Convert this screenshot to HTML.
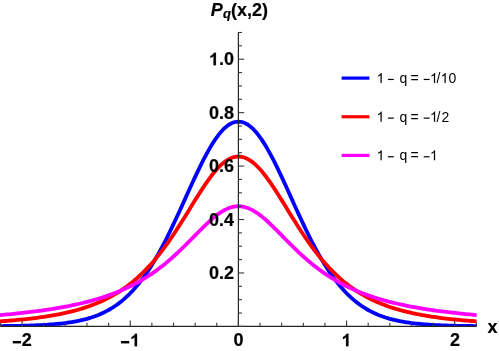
<!DOCTYPE html>
<html><head><meta charset="utf-8">
<style>
html,body{margin:0;padding:0;background:#fff;}
body{width:499px;height:351px;overflow:hidden;position:relative;font-family:"Liberation Sans",sans-serif;}
svg{position:absolute;left:0;top:0;will-change:transform;}
text{font-family:"Liberation Sans",sans-serif;}
.b{font-weight:bold;font-size:18px;fill:#000;stroke:#000;stroke-width:0.2px;stroke-linejoin:round;}
.l{font-size:14px;fill:#000;}
</style></head><body>
<svg width="499" height="351" viewBox="0 0 499 351">

<defs><clipPath id="cp"><rect x="0" y="0" width="476.65" height="326.50"/></clipPath></defs><g clip-path="url(#cp)">
<path d="M-6.04 326.12 L-3.88 326.10 L-1.72 326.09 L0.45 326.07 L2.61 326.04 L4.77 326.02 L6.94 325.99 L9.10 325.96 L11.26 325.93 L13.43 325.90 L15.59 325.86 L17.75 325.82 L19.92 325.78 L22.08 325.73 L24.24 325.67 L26.41 325.62 L28.57 325.55 L30.73 325.48 L32.90 325.41 L35.06 325.32 L37.22 325.24 L39.39 325.14 L41.55 325.03 L43.71 324.91 L45.88 324.79 L48.04 324.65 L50.20 324.50 L52.36 324.34 L54.53 324.16 L56.69 323.97 L58.85 323.76 L61.02 323.53 L63.18 323.29 L65.34 323.02 L67.51 322.73 L69.67 322.42 L71.83 322.08 L74.00 321.71 L76.16 321.32 L78.32 320.89 L80.49 320.43 L82.65 319.93 L84.81 319.39 L86.98 318.81 L89.14 318.18 L91.30 317.51 L93.47 316.78 L95.63 316.00 L97.79 315.17 L99.96 314.27 L102.12 313.31 L104.28 312.28 L106.44 311.18 L108.61 310.01 L110.77 308.75 L112.93 307.42 L115.10 305.99 L117.26 304.47 L119.42 302.86 L121.59 301.15 L123.75 299.34 L125.91 297.42 L128.08 295.39 L130.24 293.24 L132.40 290.98 L134.57 288.59 L136.73 286.09 L138.89 283.45 L141.06 280.69 L143.22 277.80 L145.38 274.78 L147.55 271.62 L149.71 268.34 L151.87 264.92 L154.04 261.37 L156.20 257.70 L158.36 253.90 L160.52 249.97 L162.69 245.93 L164.85 241.78 L167.01 237.52 L169.18 233.15 L171.34 228.70 L173.50 224.17 L175.67 219.56 L177.83 214.89 L179.99 210.17 L182.16 205.41 L184.32 200.63 L186.48 195.84 L188.65 191.06 L190.81 186.30 L192.97 181.58 L195.14 176.91 L197.30 172.32 L199.46 167.82 L201.63 163.43 L203.79 159.16 L205.95 155.05 L208.12 151.10 L210.28 147.33 L212.44 143.76 L214.60 140.40 L216.77 137.28 L218.93 134.41 L221.09 131.79 L223.26 129.46 L225.42 127.41 L227.58 125.65 L229.75 124.20 L231.91 123.07 L234.07 122.26 L236.24 121.77 L238.40 121.60 L240.56 121.77 L242.73 122.26 L244.89 123.07 L247.05 124.20 L249.22 125.65 L251.38 127.41 L253.54 129.46 L255.71 131.79 L257.87 134.41 L260.03 137.28 L262.20 140.40 L264.36 143.76 L266.52 147.33 L268.68 151.10 L270.85 155.05 L273.01 159.16 L275.17 163.43 L277.34 167.82 L279.50 172.32 L281.66 176.91 L283.83 181.58 L285.99 186.30 L288.15 191.06 L290.32 195.84 L292.48 200.63 L294.64 205.41 L296.81 210.17 L298.97 214.89 L301.13 219.56 L303.30 224.17 L305.46 228.70 L307.62 233.15 L309.79 237.52 L311.95 241.78 L314.11 245.93 L316.28 249.97 L318.44 253.90 L320.60 257.70 L322.76 261.37 L324.93 264.92 L327.09 268.34 L329.25 271.62 L331.42 274.78 L333.58 277.80 L335.74 280.69 L337.91 283.45 L340.07 286.09 L342.23 288.59 L344.40 290.98 L346.56 293.24 L348.72 295.39 L350.89 297.42 L353.05 299.34 L355.21 301.15 L357.38 302.86 L359.54 304.47 L361.70 305.99 L363.87 307.42 L366.03 308.75 L368.19 310.01 L370.36 311.18 L372.52 312.28 L374.68 313.31 L376.84 314.27 L379.01 315.17 L381.17 316.00 L383.33 316.78 L385.50 317.51 L387.66 318.18 L389.82 318.81 L391.99 319.39 L394.15 319.93 L396.31 320.43 L398.48 320.89 L400.64 321.32 L402.80 321.71 L404.97 322.08 L407.13 322.42 L409.29 322.73 L411.46 323.02 L413.62 323.29 L415.78 323.53 L417.95 323.76 L420.11 323.97 L422.27 324.16 L424.44 324.34 L426.60 324.50 L428.76 324.65 L430.92 324.79 L433.09 324.91 L435.25 325.03 L437.41 325.14 L439.58 325.24 L441.74 325.32 L443.90 325.41 L446.07 325.48 L448.23 325.55 L450.39 325.62 L452.56 325.67 L454.72 325.73 L456.88 325.78 L459.05 325.82 L461.21 325.86 L463.37 325.90 L465.54 325.93 L467.70 325.96 L469.86 325.99 L472.03 326.02 L474.19 326.04 L476.35 326.07 L478.52 326.09 L480.68 326.10 L482.84 326.12" fill="none" stroke="#0000ff" stroke-width="3.8" stroke-linejoin="round"/>
<path d="M-6.04 321.75 L-3.88 321.61 L-1.72 321.47 L0.45 321.32 L2.61 321.17 L4.77 321.01 L6.94 320.85 L9.10 320.68 L11.26 320.50 L13.43 320.32 L15.59 320.12 L17.75 319.93 L19.92 319.72 L22.08 319.51 L24.24 319.29 L26.41 319.06 L28.57 318.82 L30.73 318.57 L32.90 318.31 L35.06 318.04 L37.22 317.76 L39.39 317.47 L41.55 317.17 L43.71 316.86 L45.88 316.53 L48.04 316.19 L50.20 315.83 L52.36 315.46 L54.53 315.08 L56.69 314.68 L58.85 314.26 L61.02 313.83 L63.18 313.37 L65.34 312.90 L67.51 312.41 L69.67 311.90 L71.83 311.36 L74.00 310.81 L76.16 310.23 L78.32 309.62 L80.49 308.99 L82.65 308.33 L84.81 307.64 L86.98 306.92 L89.14 306.17 L91.30 305.39 L93.47 304.58 L95.63 303.72 L97.79 302.84 L99.96 301.91 L102.12 300.94 L104.28 299.93 L106.44 298.88 L108.61 297.78 L110.77 296.64 L112.93 295.44 L115.10 294.19 L117.26 292.89 L119.42 291.54 L121.59 290.12 L123.75 288.65 L125.91 287.12 L128.08 285.52 L130.24 283.85 L132.40 282.12 L134.57 280.32 L136.73 278.45 L138.89 276.50 L141.06 274.47 L143.22 272.37 L145.38 270.19 L147.55 267.94 L149.71 265.60 L151.87 263.17 L154.04 260.67 L156.20 258.08 L158.36 255.41 L160.52 252.66 L162.69 249.82 L164.85 246.91 L167.01 243.92 L169.18 240.85 L171.34 237.71 L173.50 234.50 L175.67 231.23 L177.83 227.90 L179.99 224.52 L182.16 221.10 L184.32 217.64 L186.48 214.15 L188.65 210.64 L190.81 207.12 L192.97 203.61 L195.14 200.12 L197.30 196.66 L199.46 193.24 L201.63 189.88 L203.79 186.59 L205.95 183.39 L208.12 180.30 L210.28 177.33 L212.44 174.50 L214.60 171.83 L216.77 169.32 L218.93 167.00 L221.09 164.88 L223.26 162.98 L225.42 161.30 L227.58 159.86 L229.75 158.67 L231.91 157.73 L234.07 157.06 L236.24 156.65 L238.40 156.51 L240.56 156.65 L242.73 157.06 L244.89 157.73 L247.05 158.67 L249.22 159.86 L251.38 161.30 L253.54 162.98 L255.71 164.88 L257.87 167.00 L260.03 169.32 L262.20 171.83 L264.36 174.50 L266.52 177.33 L268.68 180.30 L270.85 183.39 L273.01 186.59 L275.17 189.88 L277.34 193.24 L279.50 196.66 L281.66 200.12 L283.83 203.61 L285.99 207.12 L288.15 210.64 L290.32 214.15 L292.48 217.64 L294.64 221.10 L296.81 224.52 L298.97 227.90 L301.13 231.23 L303.30 234.50 L305.46 237.71 L307.62 240.85 L309.79 243.92 L311.95 246.91 L314.11 249.82 L316.28 252.66 L318.44 255.41 L320.60 258.08 L322.76 260.67 L324.93 263.17 L327.09 265.60 L329.25 267.94 L331.42 270.19 L333.58 272.37 L335.74 274.47 L337.91 276.50 L340.07 278.45 L342.23 280.32 L344.40 282.12 L346.56 283.85 L348.72 285.52 L350.89 287.12 L353.05 288.65 L355.21 290.12 L357.38 291.54 L359.54 292.89 L361.70 294.19 L363.87 295.44 L366.03 296.64 L368.19 297.78 L370.36 298.88 L372.52 299.93 L374.68 300.94 L376.84 301.91 L379.01 302.84 L381.17 303.72 L383.33 304.58 L385.50 305.39 L387.66 306.17 L389.82 306.92 L391.99 307.64 L394.15 308.33 L396.31 308.99 L398.48 309.62 L400.64 310.23 L402.80 310.81 L404.97 311.36 L407.13 311.90 L409.29 312.41 L411.46 312.90 L413.62 313.37 L415.78 313.83 L417.95 314.26 L420.11 314.68 L422.27 315.08 L424.44 315.46 L426.60 315.83 L428.76 316.19 L430.92 316.53 L433.09 316.86 L435.25 317.17 L437.41 317.47 L439.58 317.76 L441.74 318.04 L443.90 318.31 L446.07 318.57 L448.23 318.82 L450.39 319.06 L452.56 319.29 L454.72 319.51 L456.88 319.72 L459.05 319.93 L461.21 320.12 L463.37 320.32 L465.54 320.50 L467.70 320.68 L469.86 320.85 L472.03 321.01 L474.19 321.17 L476.35 321.32 L478.52 321.47 L480.68 321.61 L482.84 321.75" fill="none" stroke="#ff0000" stroke-width="3.8" stroke-linejoin="round"/>
<path d="M-6.04 315.60 L-3.88 315.42 L-1.72 315.24 L0.45 315.06 L2.61 314.87 L4.77 314.68 L6.94 314.48 L9.10 314.28 L11.26 314.07 L13.43 313.86 L15.59 313.65 L17.75 313.42 L19.92 313.19 L22.08 312.96 L24.24 312.72 L26.41 312.47 L28.57 312.22 L30.73 311.96 L32.90 311.69 L35.06 311.42 L37.22 311.14 L39.39 310.85 L41.55 310.55 L43.71 310.25 L45.88 309.94 L48.04 309.61 L50.20 309.28 L52.36 308.94 L54.53 308.59 L56.69 308.23 L58.85 307.86 L61.02 307.48 L63.18 307.09 L65.34 306.68 L67.51 306.27 L69.67 305.84 L71.83 305.40 L74.00 304.94 L76.16 304.47 L78.32 303.99 L80.49 303.49 L82.65 302.98 L84.81 302.45 L86.98 301.90 L89.14 301.33 L91.30 300.75 L93.47 300.15 L95.63 299.53 L97.79 298.89 L99.96 298.23 L102.12 297.55 L104.28 296.84 L106.44 296.11 L108.61 295.36 L110.77 294.58 L112.93 293.77 L115.10 292.94 L117.26 292.08 L119.42 291.20 L121.59 290.28 L123.75 289.33 L125.91 288.35 L128.08 287.33 L130.24 286.28 L132.40 285.20 L134.57 284.07 L136.73 282.91 L138.89 281.72 L141.06 280.48 L143.22 279.20 L145.38 277.87 L147.55 276.51 L149.71 275.10 L151.87 273.64 L154.04 272.14 L156.20 270.59 L158.36 269.00 L160.52 267.36 L162.69 265.67 L164.85 263.93 L167.01 262.14 L169.18 260.31 L171.34 258.43 L173.50 256.50 L175.67 254.53 L177.83 252.52 L179.99 250.47 L182.16 248.38 L184.32 246.26 L186.48 244.11 L188.65 241.94 L190.81 239.75 L192.97 237.55 L195.14 235.35 L197.30 233.15 L199.46 230.96 L201.63 228.79 L203.79 226.65 L205.95 224.56 L208.12 222.52 L210.28 220.54 L212.44 218.64 L214.60 216.84 L216.77 215.14 L218.93 213.55 L221.09 212.09 L223.26 210.77 L225.42 209.60 L227.58 208.60 L229.75 207.76 L231.91 207.10 L234.07 206.63 L236.24 206.34 L238.40 206.24 L240.56 206.34 L242.73 206.63 L244.89 207.10 L247.05 207.76 L249.22 208.60 L251.38 209.60 L253.54 210.77 L255.71 212.09 L257.87 213.55 L260.03 215.14 L262.20 216.84 L264.36 218.64 L266.52 220.54 L268.68 222.52 L270.85 224.56 L273.01 226.65 L275.17 228.79 L277.34 230.96 L279.50 233.15 L281.66 235.35 L283.83 237.55 L285.99 239.75 L288.15 241.94 L290.32 244.11 L292.48 246.26 L294.64 248.38 L296.81 250.47 L298.97 252.52 L301.13 254.53 L303.30 256.50 L305.46 258.43 L307.62 260.31 L309.79 262.14 L311.95 263.93 L314.11 265.67 L316.28 267.36 L318.44 269.00 L320.60 270.59 L322.76 272.14 L324.93 273.64 L327.09 275.10 L329.25 276.51 L331.42 277.87 L333.58 279.20 L335.74 280.48 L337.91 281.72 L340.07 282.91 L342.23 284.07 L344.40 285.20 L346.56 286.28 L348.72 287.33 L350.89 288.35 L353.05 289.33 L355.21 290.28 L357.38 291.20 L359.54 292.08 L361.70 292.94 L363.87 293.77 L366.03 294.58 L368.19 295.36 L370.36 296.11 L372.52 296.84 L374.68 297.55 L376.84 298.23 L379.01 298.89 L381.17 299.53 L383.33 300.15 L385.50 300.75 L387.66 301.33 L389.82 301.90 L391.99 302.45 L394.15 302.98 L396.31 303.49 L398.48 303.99 L400.64 304.47 L402.80 304.94 L404.97 305.40 L407.13 305.84 L409.29 306.27 L411.46 306.68 L413.62 307.09 L415.78 307.48 L417.95 307.86 L420.11 308.23 L422.27 308.59 L424.44 308.94 L426.60 309.28 L428.76 309.61 L430.92 309.94 L433.09 310.25 L435.25 310.55 L437.41 310.85 L439.58 311.14 L441.74 311.42 L443.90 311.69 L446.07 311.96 L448.23 312.22 L450.39 312.47 L452.56 312.72 L454.72 312.96 L456.88 313.19 L459.05 313.42 L461.21 313.65 L463.37 313.86 L465.54 314.07 L467.70 314.28 L469.86 314.48 L472.03 314.68 L474.19 314.87 L476.35 315.06 L478.52 315.24 L480.68 315.42 L482.84 315.60" fill="none" stroke="#ff00ff" stroke-width="3.8" stroke-linejoin="round"/>
</g>
<g stroke="#262626" stroke-width="1.2" fill="none">
<line x1="0" y1="326.40" x2="476.85" y2="326.40"/>
<line x1="238.40" y1="326.90" x2="238.40" y2="31.98"/>
</g><g stroke="#3a3a3a" stroke-width="1.1" fill="none">
<line x1="0.45" y1="326.40" x2="0.45" y2="322.80"/>
<line x1="22.08" y1="326.40" x2="22.08" y2="320.60"/>
<line x1="43.71" y1="326.40" x2="43.71" y2="322.80"/>
<line x1="65.34" y1="326.40" x2="65.34" y2="322.80"/>
<line x1="86.98" y1="326.40" x2="86.98" y2="322.80"/>
<line x1="108.61" y1="326.40" x2="108.61" y2="322.80"/>
<line x1="130.24" y1="326.40" x2="130.24" y2="320.60"/>
<line x1="151.87" y1="326.40" x2="151.87" y2="322.80"/>
<line x1="173.50" y1="326.40" x2="173.50" y2="322.80"/>
<line x1="195.14" y1="326.40" x2="195.14" y2="322.80"/>
<line x1="216.77" y1="326.40" x2="216.77" y2="322.80"/>
<line x1="238.40" y1="326.40" x2="238.40" y2="320.60"/>
<line x1="260.03" y1="326.40" x2="260.03" y2="322.80"/>
<line x1="281.66" y1="326.40" x2="281.66" y2="322.80"/>
<line x1="303.30" y1="326.40" x2="303.30" y2="322.80"/>
<line x1="324.93" y1="326.40" x2="324.93" y2="322.80"/>
<line x1="346.56" y1="326.40" x2="346.56" y2="320.60"/>
<line x1="368.19" y1="326.40" x2="368.19" y2="322.80"/>
<line x1="389.82" y1="326.40" x2="389.82" y2="322.80"/>
<line x1="411.46" y1="326.40" x2="411.46" y2="322.80"/>
<line x1="433.09" y1="326.40" x2="433.09" y2="322.80"/>
<line x1="454.72" y1="326.40" x2="454.72" y2="320.60"/>
<line x1="476.35" y1="326.40" x2="476.35" y2="322.80"/>
<line x1="238.40" y1="326.40" x2="244.20" y2="326.40"/>
<line x1="238.40" y1="313.04" x2="242.00" y2="313.04"/>
<line x1="238.40" y1="299.68" x2="242.00" y2="299.68"/>
<line x1="238.40" y1="286.32" x2="242.00" y2="286.32"/>
<line x1="238.40" y1="272.96" x2="244.20" y2="272.96"/>
<line x1="238.40" y1="259.60" x2="242.00" y2="259.60"/>
<line x1="238.40" y1="246.24" x2="242.00" y2="246.24"/>
<line x1="238.40" y1="232.88" x2="242.00" y2="232.88"/>
<line x1="238.40" y1="219.52" x2="244.20" y2="219.52"/>
<line x1="238.40" y1="206.16" x2="242.00" y2="206.16"/>
<line x1="238.40" y1="192.80" x2="242.00" y2="192.80"/>
<line x1="238.40" y1="179.44" x2="242.00" y2="179.44"/>
<line x1="238.40" y1="166.08" x2="244.20" y2="166.08"/>
<line x1="238.40" y1="152.72" x2="242.00" y2="152.72"/>
<line x1="238.40" y1="139.36" x2="242.00" y2="139.36"/>
<line x1="238.40" y1="126.00" x2="242.00" y2="126.00"/>
<line x1="238.40" y1="112.64" x2="244.20" y2="112.64"/>
<line x1="238.40" y1="99.28" x2="242.00" y2="99.28"/>
<line x1="238.40" y1="85.92" x2="242.00" y2="85.92"/>
<line x1="238.40" y1="72.56" x2="242.00" y2="72.56"/>
<line x1="238.40" y1="59.20" x2="244.20" y2="59.20"/>
<line x1="238.40" y1="45.84" x2="242.00" y2="45.84"/>
<line x1="238.40" y1="32.48" x2="242.00" y2="32.48"/>
</g>
<rect x="12.78" y="340.98" width="8.3" height="2.45" fill="#000"/>
<text class="b" x="21.66" y="346.20">2</text>
<rect x="120.94" y="340.98" width="8.3" height="2.45" fill="#000"/>
<path d="M1102 0H821V1059Q667 915 458 846V1101Q568 1137 697 1237.5Q826 1338 874 1472H1102Z" transform="translate(127.63 346.35) scale(0.00854 -0.00854)" fill="#000" stroke="#000" stroke-width="23"/>
<text class="b" x="238.60" y="346.20" text-anchor="middle">0</text>
<path d="M1102 0H821V1059Q667 915 458 846V1101Q568 1137 697 1237.5Q826 1338 874 1472H1102Z" transform="translate(339.05 346.35) scale(0.00854 -0.00854)" fill="#000" stroke="#000" stroke-width="23"/>
<text class="b" x="454.92" y="346.20" text-anchor="middle">2</text>
<text class="b" x="234.0" y="278.96" text-anchor="end">0.2</text>
<text class="b" x="234.0" y="225.52" text-anchor="end">0.4</text>
<text class="b" x="234.0" y="172.08" text-anchor="end">0.6</text>
<text class="b" x="234.0" y="118.64" text-anchor="end">0.8</text>
<text class="b" x="234.0" y="65.20" text-anchor="end">.0</text>
<path d="M1102 0H821V1059Q667 915 458 846V1101Q568 1137 697 1237.5Q826 1338 874 1472H1102Z" transform="translate(206.50 65.30) scale(0.00854 -0.00854)" fill="#000" stroke="#000" stroke-width="23"/>
<text class="b" x="487.5" y="332.9">x</text>
<text class="b" x="210.7" y="16.3"><tspan font-style="italic">P</tspan><tspan font-style="italic" font-size="13" dx="0.3" dy="2.0">q</tspan><tspan dy="-2.0">(x,2)</tspan></text>
<line x1="341.6" y1="78.10" x2="369.4" y2="78.10" stroke="#0000ff" stroke-width="3.2"/>
<path d="M763 0H583V1147Q518 1085 412.5 1023Q307 961 223 930V1104Q374 1175 487 1276Q600 1377 647 1472H763Z" transform="translate(376.50 83.00) scale(0.00684 -0.00684)" fill="#000"/>
<line x1="387.90" y1="79.45" x2="393.80" y2="79.45" stroke="#000" stroke-width="1.2"/>
<text class="l" x="399.6" y="83.00">q</text>
<text class="l" x="410.6" y="83.00">=</text>
<line x1="423.70" y1="79.45" x2="429.60" y2="79.45" stroke="#000" stroke-width="1.2"/>
<path d="M763 0H583V1147Q518 1085 412.5 1023Q307 961 223 930V1104Q374 1175 487 1276Q600 1377 647 1472H763Z" transform="translate(429.90 83.00) scale(0.00684 -0.00684)" fill="#000"/>
<text class="l" x="436.6" y="83.00">/</text>
<path d="M763 0H583V1147Q518 1085 412.5 1023Q307 961 223 930V1104Q374 1175 487 1276Q600 1377 647 1472H763Z" transform="translate(440.50 83.00) scale(0.00684 -0.00684)" fill="#000"/>
<text class="l" x="448.5" y="83.00">0</text>
<line x1="341.6" y1="116.76" x2="369.4" y2="116.76" stroke="#ff0000" stroke-width="3.2"/>
<path d="M763 0H583V1147Q518 1085 412.5 1023Q307 961 223 930V1104Q374 1175 487 1276Q600 1377 647 1472H763Z" transform="translate(376.50 121.66) scale(0.00684 -0.00684)" fill="#000"/>
<line x1="387.90" y1="118.11" x2="393.80" y2="118.11" stroke="#000" stroke-width="1.2"/>
<text class="l" x="399.6" y="121.66">q</text>
<text class="l" x="410.6" y="121.66">=</text>
<line x1="423.70" y1="118.11" x2="429.60" y2="118.11" stroke="#000" stroke-width="1.2"/>
<path d="M763 0H583V1147Q518 1085 412.5 1023Q307 961 223 930V1104Q374 1175 487 1276Q600 1377 647 1472H763Z" transform="translate(429.90 121.66) scale(0.00684 -0.00684)" fill="#000"/>
<text class="l" x="436.6" y="121.66">/</text>
<text class="l" x="441.4" y="121.66">2</text>
<line x1="341.6" y1="155.42" x2="369.4" y2="155.42" stroke="#ff00ff" stroke-width="3.2"/>
<path d="M763 0H583V1147Q518 1085 412.5 1023Q307 961 223 930V1104Q374 1175 487 1276Q600 1377 647 1472H763Z" transform="translate(376.50 160.32) scale(0.00684 -0.00684)" fill="#000"/>
<line x1="387.90" y1="156.77" x2="393.80" y2="156.77" stroke="#000" stroke-width="1.2"/>
<text class="l" x="399.6" y="160.32">q</text>
<text class="l" x="410.6" y="160.32">=</text>
<line x1="423.70" y1="156.77" x2="429.60" y2="156.77" stroke="#000" stroke-width="1.2"/>
<path d="M763 0H583V1147Q518 1085 412.5 1023Q307 961 223 930V1104Q374 1175 487 1276Q600 1377 647 1472H763Z" transform="translate(429.90 160.32) scale(0.00684 -0.00684)" fill="#000"/>
</svg></body></html>
